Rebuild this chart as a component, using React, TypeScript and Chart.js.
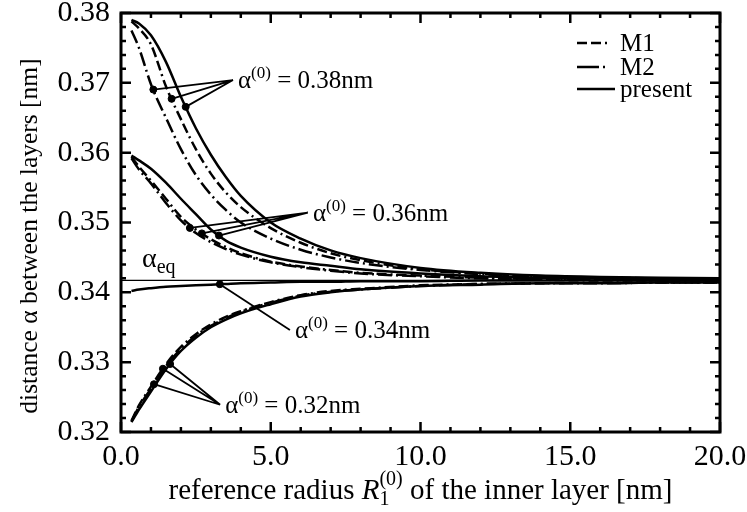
import { useEffect, useRef } from "react";
import { Chart, registerables } from "chart.js";

Chart.register(...registerables);

// Reference radius grid (nm) shared by all curves
const radius = [0.35, 0.6, 1, 1.5, 2, 2.5, 3, 3.5, 4, 5, 6, 7, 8, 10, 12, 14, 16, 18, 20];

// alpha(0) = 0.38 nm
const a38Present = [0.3790, 0.3785, 0.3768, 0.3730, 0.3680, 0.3635, 0.3597, 0.3565, 0.3538, 0.3500, 0.3477, 0.3460, 0.3449, 0.3435, 0.3428, 0.3424, 0.3422, 0.3421, 0.3420];
const a38M1 = [0.3788, 0.3778, 0.3755, 0.3695, 0.3648, 0.3605, 0.3570, 0.3543, 0.3522, 0.3492, 0.3471, 0.3456, 0.3446, 0.3433, 0.3427, 0.3423, 0.3421, 0.3420, 0.3419];
const a38M2 = [0.3775, 0.3750, 0.3698, 0.3650, 0.3605, 0.3568, 0.3540, 0.3518, 0.3500, 0.3477, 0.3461, 0.3450, 0.3442, 0.3432, 0.3426, 0.3422, 0.3420, 0.3419, 0.3418];

// alpha(0) = 0.36 nm
const a36Present = [0.3596, 0.3589, 0.3577, 0.3557, 0.3534, 0.3512, 0.3490, 0.3474, 0.3464, 0.3451, 0.3443, 0.3438, 0.3433, 0.3427, 0.3423, 0.3421, 0.3420, 0.3419, 0.3418];
const a36M1 = [0.3594, 0.3580, 0.3560, 0.3534, 0.3508, 0.3490, 0.3476, 0.3465, 0.3456, 0.3444, 0.3437, 0.3432, 0.3428, 0.3424, 0.3421, 0.3419, 0.3418, 0.3418, 0.3418];
const a36M2 = [0.3592, 0.3576, 0.3556, 0.3528, 0.3503, 0.3485, 0.3472, 0.3462, 0.3454, 0.3443, 0.3436, 0.3431, 0.3427, 0.3423, 0.3420, 0.3419, 0.3418, 0.3417, 0.3417];

// alpha(0) = 0.34 nm (all models coincide)
const a34Present = [0.3402, 0.3404, 0.3406, 0.3408, 0.3409, 0.3410, 0.3411, 0.3412, 0.3413, 0.3414, 0.3415, 0.3415, 0.3416, 0.3416, 0.3417, 0.3417, 0.3417, 0.3417, 0.3417];

// alpha(0) = 0.32 nm
const a32Present = [0.3214, 0.3232, 0.3258, 0.3290, 0.3316, 0.3335, 0.3350, 0.3361, 0.3370, 0.3383, 0.3394, 0.3400, 0.3404, 0.3409, 0.3411, 0.3413, 0.3413, 0.3414, 0.3414];
const a32M1 = [0.3216, 0.3238, 0.3265, 0.3297, 0.3322, 0.3340, 0.3354, 0.3365, 0.3373, 0.3386, 0.3396, 0.3402, 0.3405, 0.3410, 0.3412, 0.3413, 0.3414, 0.3414, 0.3414];
const a32M2 = [0.3215, 0.3236, 0.3262, 0.3294, 0.3319, 0.3338, 0.3352, 0.3363, 0.3372, 0.3385, 0.3395, 0.3401, 0.3404, 0.3409, 0.3412, 0.3413, 0.3413, 0.3414, 0.3414];

// Equilibrium interlayer distance
const alphaEq = 0.3417;
const eqRange = [0, 20];

// Marked radii on each curve (M2, M1, present)
const mark38 = [1.08, 1.69, 2.16];
const mark36 = [2.3, 2.7, 3.27];
const mark34 = [3.3];
const mark32 = [1.1, 1.4, 1.64];

// Where the leader lines of each group meet, and the label text
const anchorX = [3.74, 6.24, 5.64, 3.31];
const anchorY = [0.3704, 0.3514, 0.3346, 0.3239];
const groupLabels = ["0.38nm", "0.36nm", "0.34nm", "0.32nm"];

// Axis ticks
const xTicks = [0, 5, 10, 15, 20];
const yTicks = [0.32, 0.33, 0.34, 0.35, 0.36, 0.37, 0.38];

const legendNames = ["M1", "M2", "present"];

const DASH_M1 = [10, 4, 10, 4, 2, 4];
const DASH_M2 = [14, 4, 2, 4];
const SERIF = "'Liberation Serif', 'Times New Roman', serif";

function interp(xs: number[], ys: number[], x: number) {
  for (let i = 0; i < xs.length - 1; i++) {
    if (x >= xs[i] && x <= xs[i + 1]) {
      const t = (x - xs[i]) / (xs[i + 1] - xs[i]);
      return ys[i] + t * (ys[i + 1] - ys[i]);
    }
  }
  return ys[ys.length - 1];
}

const curve = (ys: number[]) => radius.map((x, i) => ({ x, y: ys[i] }));

const markGroups: { xs: number[]; series: number[][] }[] = [
  { xs: mark38, series: [a38M2, a38M1, a38Present] },
  { xs: mark36, series: [a36M2, a36M1, a36Present] },
  { xs: mark34, series: [a34Present] },
  { xs: mark32, series: [a32M2, a32M1, a32Present] },
];

const markPoints = markGroups.map((g) =>
  g.xs.map((x, i) => ({ x, y: interp(radius, g.series[i], x) }))
);

type Part = { t: string; size: number; dy?: number; italic?: boolean };

function drawParts(ctx: CanvasRenderingContext2D, parts: Part[], x: number, y: number) {
  let cx = x;
  for (const p of parts) {
    ctx.font = `${p.italic ? "italic " : ""}${p.size}px ${SERIF}`;
    ctx.fillText(p.t, cx, y + (p.dy || 0));
    cx += ctx.measureText(p.t).width;
  }
  return cx;
}

function partsWidth(ctx: CanvasRenderingContext2D, parts: Part[]) {
  let w = 0;
  for (const p of parts) {
    ctx.font = `${p.italic ? "italic " : ""}${p.size}px ${SERIF}`;
    w += ctx.measureText(p.t).width;
  }
  return w;
}

const decorPlugin = {
  id: "decor",
  afterDatasetsDraw(chart: any) {
    const { ctx, chartArea: a, scales } = chart;
    const xs = scales.x;
    const ys = scales.y;
    ctx.save();
    ctx.strokeStyle = "#000";
    ctx.fillStyle = "#000";

    // frame
    ctx.lineWidth = 3;
    ctx.strokeRect(a.left, a.top, a.right - a.left, a.bottom - a.top);

    // inward ticks on all four sides
    ctx.lineWidth = 2.5;
    ctx.beginPath();
    for (let i = 0; i <= 20; i++) {
      const px = xs.getPixelForValue(i);
      const len = i % 5 === 0 ? 10 : 5;
      ctx.moveTo(px, a.bottom);
      ctx.lineTo(px, a.bottom - len);
      ctx.moveTo(px, a.top);
      ctx.lineTo(px, a.top + len);
    }
    for (let i = 0; i <= 30; i++) {
      const py = ys.getPixelForValue(0.32 + i * 0.002);
      const len = i % 5 === 0 ? 10 : 5;
      ctx.moveTo(a.left, py);
      ctx.lineTo(a.left + len, py);
      ctx.moveTo(a.right, py);
      ctx.lineTo(a.right - len, py);
    }
    ctx.stroke();

    // leader lines and group labels
    ctx.lineWidth = 1.8;
    markPoints.forEach((pts, g) => {
      const ax = xs.getPixelForValue(anchorX[g]);
      const ay = ys.getPixelForValue(anchorY[g]);
      ctx.beginPath();
      pts.forEach((p) => {
        ctx.moveTo(xs.getPixelForValue(p.x), ys.getPixelForValue(p.y));
        ctx.lineTo(ax, ay);
      });
      ctx.stroke();
      ctx.textBaseline = "alphabetic";
      ctx.textAlign = "left";
      drawParts(
        ctx,
        [
          { t: "α", size: 25 },
          { t: "(0)", size: 17, dy: -10 },
          { t: " = " + groupLabels[g], size: 25 },
        ],
        ax + 5,
        ay + 8
      );
    });

    // alpha_eq label
    const eqY = ys.getPixelForValue(alphaEq);
    ctx.textAlign = "left";
    drawParts(
      ctx,
      [
        { t: "α", size: 28 },
        { t: "eq", size: 20, dy: 6 },
      ],
      a.left + 21,
      eqY - 13
    );

    // legend
    const legendStyles = [
      { dash: DASH_M1, len: 30 },
      { dash: [22, 4, 2, 100], len: 30 },
      { dash: [], len: 38 },
    ];
    const rowY = [a.top + 30, a.top + 54, a.top + 76];
    legendNames.forEach((name, i) => {
      const x0 = a.right - 143;
      ctx.lineWidth = 2.5;
      ctx.setLineDash(legendStyles[i].dash);
      ctx.beginPath();
      ctx.moveTo(x0, rowY[i]);
      ctx.lineTo(x0 + legendStyles[i].len, rowY[i]);
      ctx.stroke();
      ctx.setLineDash([]);
      ctx.font = `25px ${SERIF}`;
      ctx.textBaseline = "middle";
      ctx.fillText(name, a.right - 100, rowY[i] + 1);
    });

    // axis titles
    ctx.textBaseline = "alphabetic";
    const xParts: Part[] = [
      { t: "reference radius ", size: 29 },
      { t: "R", size: 29, italic: true },
    ];
    const tail: Part[] = [{ t: " of the inner layer [nm]", size: 29 }];
    ctx.font = `20px ${SERIF}`;
    const supW = ctx.measureText("(0)").width;
    const totalW = partsWidth(ctx, xParts) + supW + partsWidth(ctx, tail);
    const cx = (a.left + a.right) / 2;
    const base = 499;
    let px = drawParts(ctx, xParts, cx - totalW / 2, base);
    ctx.font = `20px ${SERIF}`;
    ctx.fillText("1", px, base + 6);
    ctx.fillText("(0)", px, base - 14);
    px += supW;
    drawParts(ctx, tail, px, base);

    ctx.save();
    ctx.translate(37, 236);
    ctx.rotate(-Math.PI / 2);
    ctx.textAlign = "center";
    ctx.font = `25.5px ${SERIF}`;
    ctx.fillText("distance α between the layers [nm]", 0, 0);
    ctx.restore();

    ctx.restore();
  },
};

export default function App() {
  const ref = useRef<HTMLCanvasElement | null>(null);

  useEffect(() => {
    document.body.style.margin = "0";
    const canvas = ref.current;
    if (!canvas) return;

    const line = (ys: number[], dash: number[]) => ({
      type: "line" as const,
      data: curve(ys),
      borderColor: "#000",
      borderWidth: 2.5,
      borderDash: dash,
      pointRadius: 0,
      cubicInterpolationMode: "monotone" as const,
      fill: false,
    });

    const chart = new Chart(canvas, {
      type: "line",
      data: {
        datasets: [
          {
            type: "scatter" as const,
            data: markPoints.flat(),
            pointRadius: 3.5,
            pointBackgroundColor: "#000",
            pointBorderColor: "#000",
            showLine: false,
          } as any,
          line(a38Present, []),
          line(a38M1, DASH_M1),
          line(a38M2, DASH_M2),
          line(a36Present, []),
          line(a36M1, DASH_M1),
          line(a36M2, DASH_M2),
          line(a34Present, []),
          line(a32Present, []),
          line(a32M1, DASH_M1),
          line(a32M2, DASH_M2),
          {
            type: "line" as const,
            data: eqRange.map((x) => ({ x, y: alphaEq })),
            borderColor: "#000",
            borderWidth: 1.2,
            pointRadius: 0,
          },
        ],
      },
      options: {
        responsive: false,
        animation: false,
        layout: { padding: { top: 13, right: 27, left: 0, bottom: 0 } },
        plugins: { legend: { display: false }, tooltip: { enabled: false } },
        scales: {
          x: {
            type: "linear",
            min: 0,
            max: 20,
            grid: { display: false, drawTicks: false },
            border: { display: false },
            afterBuildTicks: (s: any) => {
              s.ticks = xTicks.map((v) => ({ value: v }));
            },
            afterFit: (s: any) => {
              s.height = 80;
              s.paddingLeft = 0;
              s.paddingRight = 0;
            },
            ticks: {
              autoSkip: false,
              maxRotation: 0,
              padding: 7,
              color: "#000",
              font: { family: SERIF, size: 30 },
              callback: (v: any) => Number(v).toFixed(1),
            },
          },
          y: {
            type: "linear",
            min: 0.32,
            max: 0.38,
            grid: { display: false, drawTicks: false },
            border: { display: false },
            afterBuildTicks: (s: any) => {
              s.ticks = yTicks.map((v) => ({ value: v }));
            },
            afterFit: (s: any) => {
              s.width = 121;
              s.paddingTop = 0;
              s.paddingBottom = 0;
            },
            ticks: {
              autoSkip: false,
              padding: 11,
              color: "#000",
              font: { family: SERIF, size: 30 },
              callback: (v: any) => Number(v).toFixed(2),
            },
          },
        },
      },
      plugins: [decorPlugin],
    });

    return () => chart.destroy();
  }, []);

  return (
    <div style={{ width: 747, height: 512 }}>
      <canvas ref={ref} width={747} height={512} style={{ display: "block" }} />
    </div>
  );
}
